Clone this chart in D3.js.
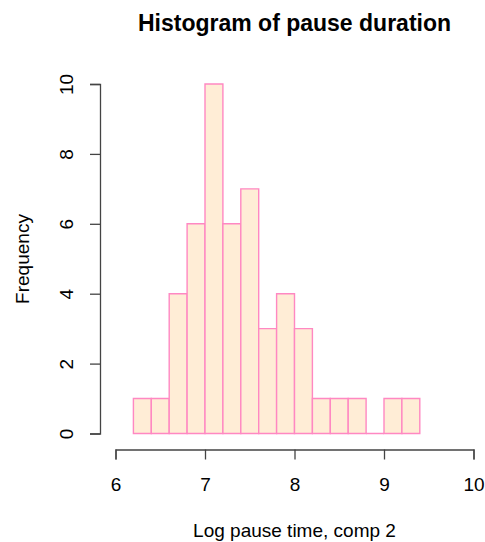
<!DOCTYPE html>
<html>
<head>
<meta charset="utf-8">
<script src="https://cdn.jsdelivr.net/npm/d3@7"></script>
<style>
  body { margin: 0; background: #fff; }
  svg text { font-family: "Liberation Sans", Arial, Helvetica, sans-serif; fill: #000; }
</style>
</head>
<body>
<svg id="chart" width="485" height="542"></svg>
<script>
// histogram bins (log pause time, width 0.2)
const binStarts = [6.2, 6.4, 6.6, 6.8, 7.0, 7.2, 7.4, 7.6, 7.8, 8.0, 8.2, 8.4, 8.6, 8.8, 9.0, 9.2];
const binWidth = 0.2;
const counts = [1, 1, 4, 6, 10, 6, 7, 3, 4, 3, 1, 1, 1, 0, 1, 1];
const xTicks = [6, 7, 8, 9, 10];
const yTicks = [0, 2, 4, 6, 8, 10];

const svg = d3.select('#chart');

const x = d3.scaleLinear().domain([6, 10]).range([115.5, 473.5]);
const y = d3.scaleLinear().domain([0, 10]).range([433.5, 84]);

// bars drawn as closed paths so an empty bin still shows its base line
svg.append('g')
    .selectAll('path')
    .data(binStarts.map((s, i) => ({ start: s, count: counts[i] })))
    .enter()
    .append('path')
    .attr('d', d => {
        const x0 = x(d.start), x1 = x(d.start + binWidth);
        const y0 = y(0), y1 = y(d.count);
        return `M${x0},${y0}H${x1}V${y1}H${x0}Z`;
    })
    .attr('fill', '#ffedd6')
    .attr('stroke', '#ff88c2')
    .attr('stroke-width', 1.4);

// x axis
const xAxis = svg.append('g')
    .attr('transform', 'translate(0,449.5)')
    .call(d3.axisBottom(x).tickValues(xTicks).tickSize(10).tickFormat(d3.format('d')));
xAxis.select('.domain').attr('stroke', '#444').attr('stroke-width', 1.3);
xAxis.selectAll('.tick line').attr('stroke', '#444').attr('stroke-width', 1.3);
xAxis.selectAll('.tick text')
    .attr('font-size', 19)
    .attr('fill', '#000')
    .attr('dy', null)
    .attr('y', 41.5);

// y axis
const yAxis = svg.append('g')
    .attr('transform', 'translate(100,0)')
    .call(d3.axisLeft(y).tickValues(yTicks).tickSize(10).tickFormat(d3.format('d')));
yAxis.select('.domain').attr('stroke', '#444').attr('stroke-width', 1.3);
yAxis.selectAll('.tick line').attr('stroke', '#444').attr('stroke-width', 1.3);
yAxis.selectAll('.tick text')
    .attr('font-size', 19)
    .attr('fill', '#000')
    .attr('x', null)
    .attr('dy', null)
    .attr('text-anchor', 'middle')
    .attr('transform', 'translate(-27,0) rotate(-90)');

// title and axis labels
svg.append('text')
    .attr('x', 294.5)
    .attr('y', 31)
    .attr('text-anchor', 'middle')
    .attr('font-size', 23)
    .attr('font-weight', 'bold')
    .text('Histogram of pause duration');

svg.append('text')
    .attr('x', 294.5)
    .attr('y', 537)
    .attr('text-anchor', 'middle')
    .attr('font-size', 19)
    .text('Log pause time, comp 2');

svg.append('text')
    .attr('transform', 'translate(29,259) rotate(-90)')
    .attr('text-anchor', 'middle')
    .attr('font-size', 19)
    .text('Frequency');
</script>
</body>
</html>
